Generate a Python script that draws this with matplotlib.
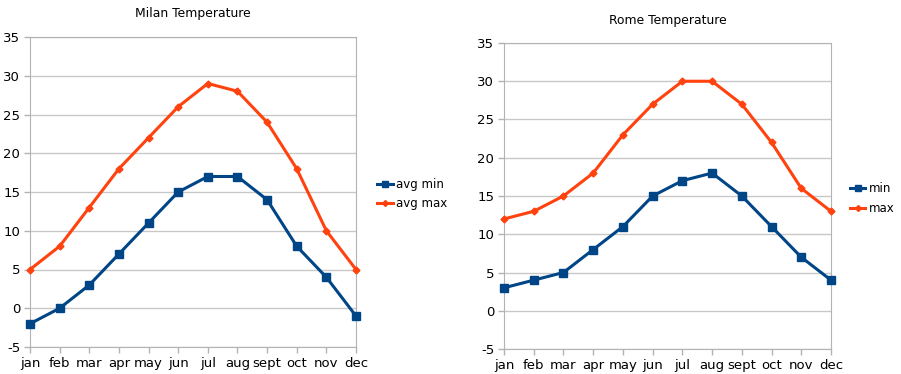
import numpy as np
import matplotlib
matplotlib.use("Agg")
import matplotlib.pyplot as plt
from matplotlib.lines import Line2D

months = ["jan", "feb", "mar", "apr", "may", "jun", "jul", "aug", "sept", "oct", "nov", "dec"]
milan_min = [-2, 0, 3, 7, 11, 15, 17, 17, 14, 8, 4, -1]
milan_max = [5, 8, 13, 18, 22, 26, 29, 28, 24, 18, 10, 5]
rome_min = [3, 4, 5, 8, 11, 15, 17, 18, 15, 11, 7, 4]
rome_max = [12, 13, 15, 18, 23, 27, 30, 30, 27, 22, 16, 13]

BLUE = "#004586"
ORANGE = "#ff420e"
GRID = "#b3b3b3"

plt.rcParams["font.family"] = "DejaVu Sans"
plt.rcParams["axes.unicode_minus"] = False

W, H = 901, 374
fig = plt.figure(figsize=(W / 100, H / 100), dpi=100)


def px_axes(x0, y0, x1, y1):
    # pixel box (top-left origin) -> figure fraction
    return fig.add_axes([x0 / W, (H - y1) / H, (x1 - x0) / W, (y1 - y0) / H])


def draw(ax, title, lo, hi, lo_label, hi_label, title_y, legend_anchor):
    x = np.arange(len(months))
    ax.plot(x, lo, color=BLUE, lw=2.2, marker="s", ms=6.2, clip_on=False, zorder=3)
    ax.plot(x, hi, color=ORANGE, lw=2.2, marker="D", ms=3.5, clip_on=False, zorder=3)
    ax.set_xlim(0, len(months) - 1)
    ax.set_ylim(-5, 35)
    ax.set_yticks(range(-5, 36, 5))
    ax.set_xticks(x)
    ax.set_xticklabels(months)
    ax.yaxis.grid(True, color="#c8c8c8", lw=1)
    ax.set_axisbelow(True)
    for s in ax.spines.values():
        s.set_color(GRID)
    ax.tick_params(colors=GRID, labelcolor="black", labelsize=9.5, length=4, width=1, pad=3)
    ax.text(0.5, title_y, title, transform=ax.transAxes, ha="center", va="center", fontsize=8.9)
    handles = [
        Line2D([], [], color=BLUE, lw=2.2, marker="s", ms=4.5),
        Line2D([], [], color=ORANGE, lw=2.2, marker="D", ms=3),
    ]
    ax.legend(handles, [lo_label, hi_label], loc="center left", bbox_to_anchor=legend_anchor,
              frameon=False, fontsize=8.5, handlelength=1.3, handletextpad=0.3,
              labelspacing=0.55, borderaxespad=0, borderpad=0)


ax1 = px_axes(30, 37, 356, 347)
draw(ax1, "Milan Temperature", milan_min, milan_max, "avg min", "avg max", 1.075, (1.065, 0.493))

ax2 = px_axes(504, 43, 831, 349)
draw(ax2, "Rome Temperature", rome_min, rome_max, "min", "max", 1.075, (1.058, 0.492))

fig.savefig("out.png", dpi=100, facecolor="white")
